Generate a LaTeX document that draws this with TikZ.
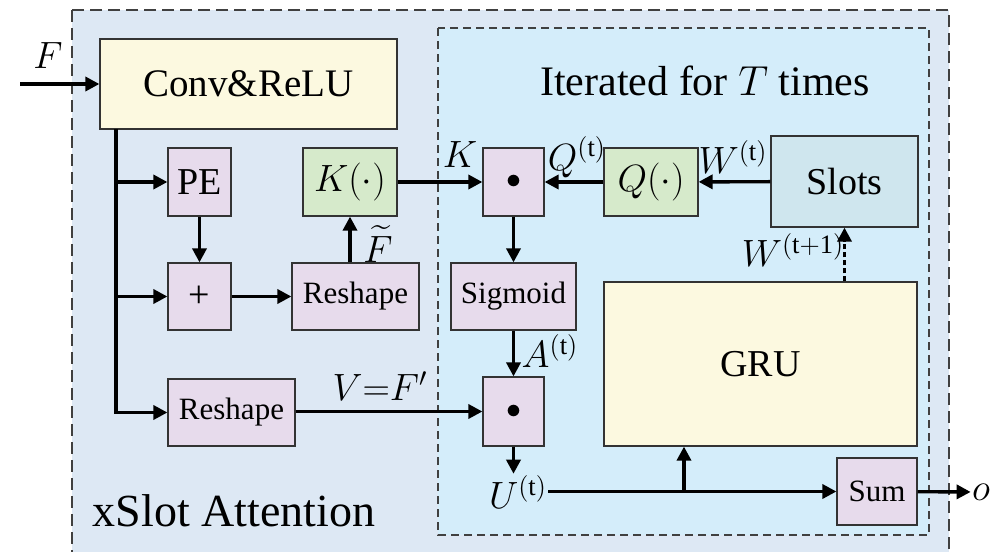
\RequirePackage{fix-cm}
\documentclass[tikz,border=0pt]{standalone}
\usepackage{fontspec}
\setmainfont{Liberation Serif}
\usepackage{amsmath}
\usepackage{xcolor}
\definecolor{xsaouter}{RGB}{221, 232, 244}
\definecolor{xsainner}{RGB}{212, 237, 250}
\definecolor{xsayellow}{RGB}{252, 249, 224}
\definecolor{xsapurple}{RGB}{231, 219, 236}
\definecolor{xsagreen}{RGB}{214, 234, 203}
\definecolor{xsaslots}{RGB}{207, 230, 238}
\usetikzlibrary{arrows.meta, positioning}

\begin{document}
\begin{tikzpicture}[
    x=0.5pt, y=-0.5pt,
    >={Triangle[length=7pt, width=7pt]},
    box/.style={draw=black!80, line width=0.6pt, inner sep=0pt, font=\fontsize{19}{22}\selectfont},
    smallbox/.style={box, font=\fontsize{15.5}{18}\selectfont},
    flow/.style={->, line width=1.7pt},
    lbl/.style={inner sep=0.5pt, font=\fontsize{19}{22}\selectfont}
]
\useasboundingbox (0,0) rectangle (997,552);

% Rahmen xSlot Attention
\draw[fill=xsaouter, draw=black!75, line width=0.8pt, dash pattern=on 6pt off 3pt] (72,10) rectangle (949,570);
\node[font=\fontsize{23}{26}\selectfont] (name) at (234,511) {xSlot Attention};

% Rahmen der Iteration
\draw[fill=xsainner, draw=black!75, line width=0.7pt, dash pattern=on 4pt off 2.5pt] (438,28) rectangle (929,535);
\node[font=\fontsize{21}{24}\selectfont] (title) at (705,81) {Iterated for $T$ times};

% Bloecke
\node[box, fill=xsayellow, minimum width=148.5pt, minimum height=45pt, font=\fontsize{19.5}{22}\selectfont] (conv) at (248.5,84) {Conv\&ReLU};
\node[box, fill=xsapurple, minimum width=31.5pt, minimum height=34pt] (pe) at (199.5,182) {PE};
\node[box, fill=xsagreen, minimum width=47pt, minimum height=34pt] (kfun) at (350,182) {$K(\cdot)$};
\node[box, fill=xsapurple, minimum width=30.5pt, minimum height=34pt, font=\fontsize{15}{18}\selectfont] (dotA) at (513.5,182) {$\bullet$};
\node[box, fill=xsagreen, minimum width=47pt, minimum height=34pt] (qfun) at (651,182) {$Q(\cdot)$};
\node[box, fill=xsaslots, minimum width=73.5pt, minimum height=45.5pt] (slots) at (844.5,181.5) {Slots};
\node[box, fill=xsapurple, minimum width=31.5pt, minimum height=33.5pt] (plus) at (199.5,296.5) {+};
\node[smallbox, fill=xsapurple, minimum width=63.5pt, minimum height=33.5pt] (reshapeK) at (355.5,296.5) {Reshape};
\node[smallbox, fill=xsapurple, minimum width=62.5pt, minimum height=33.5pt] (sigmoid) at (513.5,296.5) {Sigmoid};
\node[box, fill=xsayellow, minimum width=156.5pt, minimum height=82pt] (gru) at (760.5,364) {GRU};
\node[smallbox, fill=xsapurple, minimum width=63.5pt, minimum height=33.5pt] (reshapeV) at (231.5,412.5) {Reshape};
\node[box, fill=xsapurple, minimum width=30.5pt, minimum height=34.5pt, font=\fontsize{15}{18}\selectfont] (dotB) at (513.5,411.5) {$\bullet$};
\node[smallbox, fill=xsapurple, minimum width=40pt, minimum height=33.5pt] (sum) at (877,491.5) {Sum};

% Beschriftungen
\node[lbl] (ut) at (518,492) {$U^{(\mathrm{t})}$};
\node[lbl] (out) at (981,492) {$o$};
\node[lbl] (lf) at (48,56) {$F$};
\node[lbl] (lftilde) at (378,244) {$\widetilde{F}$};
\node[lbl] (lk) at (460,155) {$K$};
\node[lbl] (lq) at (577,157) {$Q^{(\mathrm{t})}$};
\node[lbl] (lw) at (733,157) {$W^{(\mathrm{t})}$};
\node[lbl] (lwnext) at (793,250) {$W^{(\mathrm{t+1})}$};
\node[lbl] (la) at (550,351) {$A^{(\mathrm{t})}$};
\node[lbl] (lv) at (380,386) {$V{=}F'$};

% Pfeile
\coordinate (in) at (20,84);
\coordinate (tap) at (116,129);
\draw[flow] (in) -- (conv);
\draw[flow] (tap) |- (reshapeV);
\draw[flow] (tap |- pe) -- (pe);
\draw[flow] (tap |- plus) -- (plus);
\draw[flow] (pe) -- (plus);
\draw[flow] (plus) -- (reshapeK);
\draw[flow] (reshapeK.north -| kfun) -- (kfun);
\draw[flow] (kfun) -- (dotA);
\draw[flow] (qfun) -- (dotA);
\draw[flow] (slots) -- (qfun);
\draw[flow] (dotA) -- (sigmoid);
\draw[flow] (sigmoid) -- (dotB);
\draw[flow] (reshapeV.east |- dotB) -- (dotB);
\draw[flow] (dotB) -- (dotB |- ut.north);
\draw[flow] (ut.east |- sum) -- (sum);
\coordinate (fork) at (684,491.5);
\draw[flow] (fork) -- (fork |- gru.south);
\draw[flow, dash pattern=on 2.5pt off 1.5pt] (gru.north -| slots) -- (slots);
\draw[flow] (sum) -- (out);

\end{tikzpicture}
\end{document}
